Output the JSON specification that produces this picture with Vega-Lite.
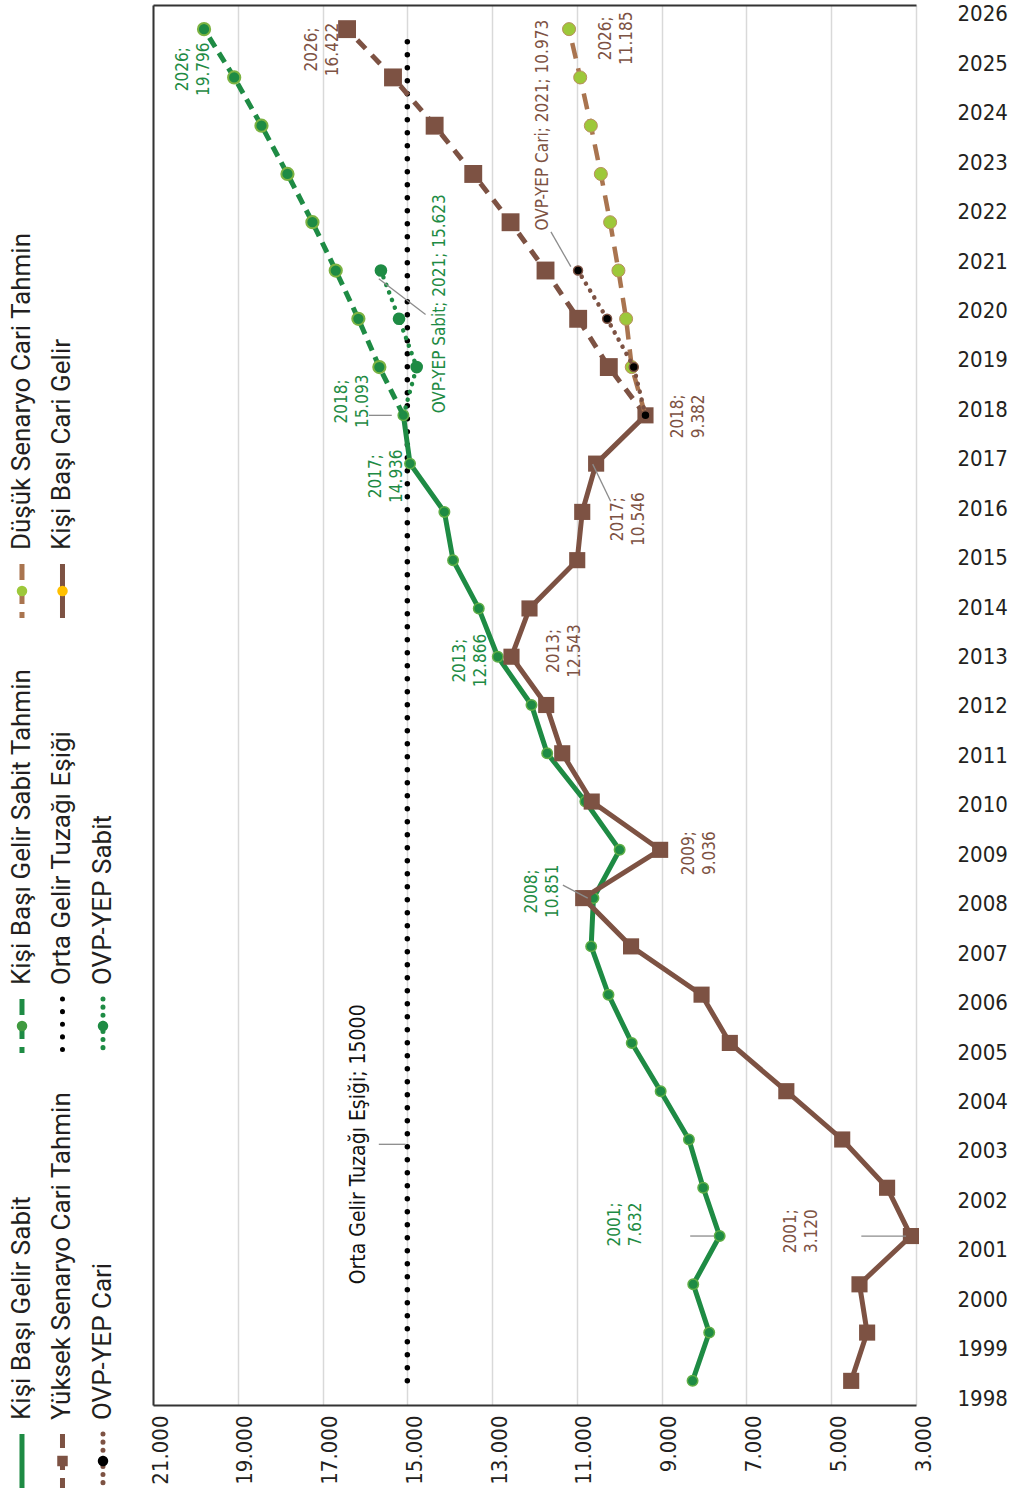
{
  "$schema": "https://vega.github.io/schema/vega-lite/v6.json",
  "background": "white",
  "padding": {"left": 0, "right": 0, "top": 2, "bottom": 0},
  "spacing": 20,
  "bounds": "flush",
  "config": {"view": {"stroke": null}},
  "datasets": {
    "series": [
      {"s": "Kişi Başı Gelir Sabit", "year": 1998, "value": 8271},
      {"s": "Kişi Başı Gelir Sabit", "year": 1999, "value": 7878},
      {"s": "Kişi Başı Gelir Sabit", "year": 2000, "value": 8255},
      {"s": "Kişi Başı Gelir Sabit", "year": 2001, "value": 7632},
      {"s": "Kişi Başı Gelir Sabit", "year": 2002, "value": 8020},
      {"s": "Kişi Başı Gelir Sabit", "year": 2003, "value": 8357},
      {"s": "Kişi Başı Gelir Sabit", "year": 2004, "value": 9024},
      {"s": "Kişi Başı Gelir Sabit", "year": 2005, "value": 9706},
      {"s": "Kişi Başı Gelir Sabit", "year": 2006, "value": 10255},
      {"s": "Kişi Başı Gelir Sabit", "year": 2007, "value": 10663},
      {"s": "Kişi Başı Gelir Sabit", "year": 2008, "value": 10610},
      {"s": "Kişi Başı Gelir Sabit", "year": 2009, "value": 9992},
      {"s": "Kişi Başı Gelir Sabit", "year": 2010, "value": 10800},
      {"s": "Kişi Başı Gelir Sabit", "year": 2011, "value": 11701},
      {"s": "Kişi Başı Gelir Sabit", "year": 2012, "value": 12071},
      {"s": "Kişi Başı Gelir Sabit", "year": 2013, "value": 12866},
      {"s": "Kişi Başı Gelir Sabit", "year": 2014, "value": 13315},
      {"s": "Kişi Başı Gelir Sabit", "year": 2015, "value": 13921},
      {"s": "Kişi Başı Gelir Sabit", "year": 2016, "value": 14126},
      {"s": "Kişi Başı Gelir Sabit", "year": 2017, "value": 14936},
      {"s": "Kişi Başı Gelir Sabit", "year": 2018, "value": 15093},
      {"s": "Kişi Başı Cari Gelir", "year": 1998, "value": 4529},
      {"s": "Kişi Başı Cari Gelir", "year": 1999, "value": 4153},
      {"s": "Kişi Başı Cari Gelir", "year": 2000, "value": 4333},
      {"s": "Kişi Başı Cari Gelir", "year": 2001, "value": 3120},
      {"s": "Kişi Başı Cari Gelir", "year": 2002, "value": 3682},
      {"s": "Kişi Başı Cari Gelir", "year": 2003, "value": 4741},
      {"s": "Kişi Başı Cari Gelir", "year": 2004, "value": 6059},
      {"s": "Kişi Başı Cari Gelir", "year": 2005, "value": 7392},
      {"s": "Kişi Başı Cari Gelir", "year": 2006, "value": 8059},
      {"s": "Kişi Başı Cari Gelir", "year": 2007, "value": 9722},
      {"s": "Kişi Başı Cari Gelir", "year": 2008, "value": 10851},
      {"s": "Kişi Başı Cari Gelir", "year": 2009, "value": 9036},
      {"s": "Kişi Başı Cari Gelir", "year": 2010, "value": 10650},
      {"s": "Kişi Başı Cari Gelir", "year": 2011, "value": 11346},
      {"s": "Kişi Başı Cari Gelir", "year": 2012, "value": 11724},
      {"s": "Kişi Başı Cari Gelir", "year": 2013, "value": 12543},
      {"s": "Kişi Başı Cari Gelir", "year": 2014, "value": 12118},
      {"s": "Kişi Başı Cari Gelir", "year": 2015, "value": 10992},
      {"s": "Kişi Başı Cari Gelir", "year": 2016, "value": 10874},
      {"s": "Kişi Başı Cari Gelir", "year": 2017, "value": 10546},
      {"s": "Kişi Başı Cari Gelir", "year": 2018, "value": 9382},
      {"s": "Kişi Başı Gelir Sabit Tahmin", "year": 2018, "value": 15093},
      {"s": "Kişi Başı Gelir Sabit Tahmin", "year": 2019, "value": 15660},
      {"s": "Kişi Başı Gelir Sabit Tahmin", "year": 2020, "value": 16155},
      {"s": "Kişi Başı Gelir Sabit Tahmin", "year": 2021, "value": 16689},
      {"s": "Kişi Başı Gelir Sabit Tahmin", "year": 2022, "value": 17239},
      {"s": "Kişi Başı Gelir Sabit Tahmin", "year": 2023, "value": 17828},
      {"s": "Kişi Başı Gelir Sabit Tahmin", "year": 2024, "value": 18441},
      {"s": "Kişi Başı Gelir Sabit Tahmin", "year": 2025, "value": 19085},
      {"s": "Kişi Başı Gelir Sabit Tahmin", "year": 2026, "value": 19796},
      {"s": "Yüksek Senaryo Cari Tahmin", "year": 2018, "value": 9382},
      {"s": "Yüksek Senaryo Cari Tahmin", "year": 2019, "value": 10247},
      {"s": "Yüksek Senaryo Cari Tahmin", "year": 2020, "value": 10970},
      {"s": "Yüksek Senaryo Cari Tahmin", "year": 2021, "value": 11740},
      {"s": "Yüksek Senaryo Cari Tahmin", "year": 2022, "value": 12565},
      {"s": "Yüksek Senaryo Cari Tahmin", "year": 2023, "value": 13445},
      {"s": "Yüksek Senaryo Cari Tahmin", "year": 2024, "value": 14356},
      {"s": "Yüksek Senaryo Cari Tahmin", "year": 2025, "value": 15338},
      {"s": "Yüksek Senaryo Cari Tahmin", "year": 2026, "value": 16422},
      {"s": "Düşük Senaryo Cari Tahmin", "year": 2018, "value": 9382},
      {"s": "Düşük Senaryo Cari Tahmin", "year": 2019, "value": 9706},
      {"s": "Düşük Senaryo Cari Tahmin", "year": 2020, "value": 9839},
      {"s": "Düşük Senaryo Cari Tahmin", "year": 2021, "value": 10020},
      {"s": "Düşük Senaryo Cari Tahmin", "year": 2022, "value": 10216},
      {"s": "Düşük Senaryo Cari Tahmin", "year": 2023, "value": 10435},
      {"s": "Düşük Senaryo Cari Tahmin", "year": 2024, "value": 10671},
      {"s": "Düşük Senaryo Cari Tahmin", "year": 2025, "value": 10922},
      {"s": "Düşük Senaryo Cari Tahmin", "year": 2026, "value": 11185},
      {"s": "OVP-YEP Cari", "year": 2018, "value": 9382},
      {"s": "OVP-YEP Cari", "year": 2019, "value": 9658},
      {"s": "OVP-YEP Cari", "year": 2020, "value": 10287},
      {"s": "OVP-YEP Cari", "year": 2021, "value": 10973},
      {"s": "OVP-YEP Sabit", "year": 2018, "value": 15093},
      {"s": "OVP-YEP Sabit", "year": 2019, "value": 14780},
      {"s": "OVP-YEP Sabit", "year": 2020, "value": 15196},
      {"s": "OVP-YEP Sabit", "year": 2021, "value": 15623},
      {"s": "Orta Gelir Tuzağı Eşiği", "year": 1998, "value": 15000},
      {"s": "Orta Gelir Tuzağı Eşiği", "year": 2026, "value": 15000}
    ],
    "years": [
      {"year": 1998}, {"year": 1999}, {"year": 2000}, {"year": 2001}, {"year": 2002}, {"year": 2003}, {"year": 2004},
      {"year": 2005}, {"year": 2006}, {"year": 2007}, {"year": 2008}, {"year": 2009}, {"year": 2010}, {"year": 2011},
      {"year": 2012}, {"year": 2013}, {"year": 2014}, {"year": 2015}, {"year": 2016}, {"year": 2017}, {"year": 2018},
      {"year": 2019}, {"year": 2020}, {"year": 2021}, {"year": 2022}, {"year": 2023}, {"year": 2024}, {"year": 2025}, {"year": 2026}
    ],
    "labels": [
      {"t": ["2026;", "19.796"], "lv": 20296, "ly": 2025.17, "c": "g"},
      {"t": ["2026;", "16.422"], "lv": 17245, "ly": 2025.58, "c": "b"},
      {"t": "OVP-YEP Sabit; 2021; 15.623", "lv": 14218, "ly": 2020.31, "c": "g"},
      {"t": ["2018;", "15.093"], "lv": 16541, "ly": 2018.29, "c": "g"},
      {"t": "OVP-YEP Cari; 2021; 10.973", "lv": 11800, "ly": 2024.01, "c": "b"},
      {"t": ["2026;", "11.185"], "lv": 10322, "ly": 2025.81, "c": "b"},
      {"t": ["2018;", "9.382"], "lv": 8609, "ly": 2017.98, "c": "b"},
      {"t": ["2017;", "14.936"], "lv": 15743, "ly": 2016.74, "c": "g"},
      {"t": ["2017;", "10.546"], "lv": 10040, "ly": 2015.85, "c": "b"},
      {"t": ["2013;", "12.866"], "lv": 13748, "ly": 2012.92, "c": "g"},
      {"t": ["2013;", "12.543"], "lv": 11542, "ly": 2013.12, "c": "b"},
      {"t": ["2009;", "9.036"], "lv": 8350, "ly": 2008.93, "c": "b"},
      {"t": ["2008;", "10.851"], "lv": 12058, "ly": 2008.14, "c": "g"},
      {"t": ["2001;", "7.632"], "lv": 10110, "ly": 2001.24, "c": "g"},
      {"t": ["2001;", "3.120"], "lv": 5956, "ly": 2001.1, "c": "b"}
    ],
    "leaders": [
      {"x1": 15673, "x2": 15039, "y1": 2002.9, "y2": 2002.9},
      {"x1": 15907, "x2": 15367, "y1": 2018, "y2": 2018},
      {"x1": 15673, "x2": 14570, "y1": 2020.83, "y2": 2020.09},
      {"x1": 11612, "x2": 11143, "y1": 2021.8, "y2": 2021.08},
      {"x1": 10627, "x2": 10204, "y1": 2016.99, "y2": 2016.22},
      {"x1": 11331, "x2": 10744, "y1": 2008.27, "y2": 2008.0},
      {"x1": 8327, "x2": 7764, "y1": 2001, "y2": 2001},
      {"x1": 4290, "x2": 3234, "y1": 2001, "y2": 2001}
    ],
    "legend": [
      {"item": "Kişi Başı Gelir Sabit", "col": 0, "row": 0},
      {"item": "Kişi Başı Gelir Sabit Tahmin", "col": 0, "row": 1},
      {"item": "Düşük Senaryo Cari Tahmin", "col": 0, "row": 2},
      {"item": "Yüksek Senaryo Cari Tahmin", "col": 1, "row": 0},
      {"item": "Orta Gelir Tuzağı Eşiği", "col": 1, "row": 1},
      {"item": "Kişi Başı Cari Gelir", "col": 1, "row": 2},
      {"item": "OVP-YEP Cari", "col": 2, "row": 0},
      {"item": "OVP-YEP Sabit", "col": 2, "row": 1}
    ]
  },
  "hconcat": [
    {
      "width": 133,
      "height": 1492,
      "data": {"name": "legend"},
      "encoding": {
        "x": {"field": "col", "type": "quantitative", "scale": {"domain": [-0.543, 2.741], "nice": false, "zero": false}, "axis": null},
        "y": {"field": "row", "type": "quantitative", "scale": {"domain": [-0.177, 3.253], "nice": false, "zero": false}, "axis": null}
      },
      "layer": [
        {
          "transform": [{"filter": "datum.item != 'Orta Gelir Tuzağı Eşiği' && datum.item != 'OVP-YEP Cari' && datum.item != 'OVP-YEP Sabit'"}],
          "mark": {"type": "rule", "strokeWidth": 5, "yOffset": 14, "y2Offset": 68, "strokeCap": "butt"},
          "encoding": {
            "y2": {"field": "row"},
            "stroke": {"field": "item", "type": "nominal", "legend": null,
              "scale": {"domain": ["Kişi Başı Gelir Sabit", "Kişi Başı Gelir Sabit Tahmin", "Düşük Senaryo Cari Tahmin", "Yüksek Senaryo Cari Tahmin", "Orta Gelir Tuzağı Eşiği", "Kişi Başı Cari Gelir", "OVP-YEP Cari", "OVP-YEP Sabit"],
                "range": ["#1e8b44", "#1e8b44", "#a9744f", "#7d5243", "#000000", "#7d5243", "#7d5243", "#1e8b44"]}},
            "strokeDash": {"field": "item", "type": "nominal", "legend": null,
              "scale": {"domain": ["Kişi Başı Gelir Sabit", "Kişi Başı Gelir Sabit Tahmin", "Düşük Senaryo Cari Tahmin", "Yüksek Senaryo Cari Tahmin", "Orta Gelir Tuzağı Eşiği", "Kişi Başı Cari Gelir", "OVP-YEP Cari", "OVP-YEP Sabit"],
                "range": [[1, 0], [16, 8], [16, 8], [14, 8], [0.1, 12.5], [1, 0], [0.1, 8], [0.1, 8]]}}
          }
        },
        {
          "transform": [{"filter": "datum.item == 'Orta Gelir Tuzağı Eşiği' || datum.item == 'OVP-YEP Cari' || datum.item == 'OVP-YEP Sabit'"}],
          "mark": {"type": "rule", "strokeWidth": 5, "yOffset": 14, "y2Offset": 68, "strokeCap": "round"},
          "encoding": {
            "y2": {"field": "row"},
            "stroke": {"field": "item", "type": "nominal", "legend": null},
            "strokeDash": {"field": "item", "type": "nominal", "legend": null}
          }
        },
        {
          "transform": [{"filter": "datum.item != 'Orta Gelir Tuzağı Eşiği' && datum.item != 'Kişi Başı Gelir Sabit'"}],
          "mark": {"type": "point", "filled": true, "opacity": 1, "yOffset": 41, "strokeWidth": 0},
          "encoding": {
            "fill": {"field": "item", "type": "nominal", "legend": null,
              "scale": {"domain": ["Kişi Başı Gelir Sabit Tahmin", "Düşük Senaryo Cari Tahmin", "Yüksek Senaryo Cari Tahmin", "Kişi Başı Cari Gelir", "OVP-YEP Cari", "OVP-YEP Sabit"],
                "range": ["#3f9a3f", "#9dc83a", "#7d5243", "#ffc000", "#000000", "#1e8b44"]}},
            "shape": {"field": "item", "type": "nominal", "legend": null,
              "scale": {"domain": ["Kişi Başı Gelir Sabit Tahmin", "Düşük Senaryo Cari Tahmin", "Yüksek Senaryo Cari Tahmin", "Kişi Başı Cari Gelir", "OVP-YEP Cari", "OVP-YEP Sabit"],
                "range": ["circle", "circle", "square", "circle", "circle", "circle"]}},
            "size": {"field": "item", "type": "nominal", "legend": null,
              "scale": {"domain": ["Kişi Başı Gelir Sabit Tahmin", "Düşük Senaryo Cari Tahmin", "Yüksek Senaryo Cari Tahmin", "Kişi Başı Cari Gelir", "OVP-YEP Cari", "OVP-YEP Sabit"],
                "range": [110, 110, 130, 130, 80, 120]}}
          }
        },
        {
          "mark": {"type": "text", "align": "left", "baseline": "middle", "angle": 270, "font": "Roboto", "fontSize": 26, "color": "#231f20"},
          "encoding": {"text": {"field": "item", "type": "nominal"}}
        }
      ]
    },
    {
      "width": 763,
      "height": 1400,
      "resolve": {"scale": {"y": "independent"}, "axis": {"y": "independent"}},
      "layer": [
        {
          "data": {"name": "years"},
          "mark": {"type": "point", "opacity": 0},
          "encoding": {
            "y": {"field": "year", "type": "quantitative", "scale": {"domain": [1997.86, 2026.18], "nice": false, "zero": false},
              "axis": {"orient": "right", "values": [1998, 1999, 2000, 2001, 2002, 2003, 2004, 2005, 2006, 2007, 2008, 2009, 2010, 2011, 2012, 2013, 2014, 2015, 2016, 2017, 2018, 2019, 2020, 2021, 2022, 2023, 2024, 2025, 2026],
                "format": "d", "labelFont": "'Liberation Sans Narrow', 'DejaVu Sans Condensed', sans-serif", "labelFontSize": 22, "labelColor": "#231f20",
                "labelPadding": 41, "labelFlush": false, "labelOverlap": false, "labelBound": false,
                "ticks": false, "domain": false, "grid": false, "title": null}}
          }
        },
        {
          "encoding": {
            "x": {"field": "value", "type": "quantitative", "scale": {"domain": [3000, 21000], "reverse": true, "nice": false, "zero": false}, "axis": null},
            "y": {"field": "year", "type": "quantitative", "scale": {"domain": [1997.5, 2026.5], "nice": false, "zero": false}, "axis": null}
          },
          "resolve": {"axis": {"x": "independent", "y": "independent"}},
          "layer": [
            {
              "data": {"name": "series"},
              "transform": [{"filter": "datum.s == 'Orta Gelir Tuzağı Eşiği'"}],
              "mark": {"type": "line", "color": "#000000", "strokeWidth": 5.5, "strokeDash": [0.1, 12.9], "strokeCap": "round"},
              "encoding": {
                "x": {"field": "value", "type": "quantitative",
                  "axis": {"orient": "bottom", "values": [3000, 5000, 7000, 9000, 11000, 13000, 15000, 17000, 19000, 21000],
                    "labelExpr": "replace(format(datum.value, ','), ',', '.')", "labelAngle": -90, "labelAlign": "right", "labelBaseline": "middle",
                    "labelFont": "'Liberation Sans Narrow', 'DejaVu Sans Condensed', sans-serif", "labelFontSize": 22, "labelColor": "#231f20",
                    "labelPadding": 10, "labelOffset": 7, "labelFlush": false, "labelOverlap": false, "labelBound": false,
                    "ticks": false, "domain": true, "domainColor": "#333333", "domainWidth": 2,
                    "grid": true, "gridColor": "#d9d9d9", "gridWidth": 1.5, "title": null}},
                "order": {"field": "year", "type": "quantitative"}
              }
            },
            {
              "data": {"name": "series"},
              "transform": [{"filter": "datum.s == 'Kişi Başı Gelir Sabit'"}],
              "mark": {"type": "line", "color": "#1e8b44", "strokeWidth": 5},
              "encoding": {
                "x": {"field": "value", "type": "quantitative",
                  "axis": {"orient": "top", "labels": false, "ticks": false, "grid": false, "domain": true, "domainColor": "#333333", "domainWidth": 2, "title": null, "minExtent": 0, "maxExtent": 0}},
                "y": {"field": "year", "type": "quantitative",
                  "axis": {"orient": "left", "labels": false, "ticks": false, "grid": false, "domain": true, "domainColor": "#333333", "domainWidth": 2, "title": null, "minExtent": 0, "maxExtent": 0}},
                "order": {"field": "year", "type": "quantitative"}
              }
            },
            {
              "data": {"name": "series"},
              "transform": [{"filter": "datum.s == 'Kişi Başı Gelir Sabit'"}],
              "mark": {"type": "point", "shape": "circle", "filled": true, "opacity": 1, "size": 110, "fill": "#1e8b44", "stroke": "#5fae46", "strokeWidth": 1.5}
            },
            {
              "data": {"name": "series"},
              "transform": [{"filter": "datum.s == 'Kişi Başı Cari Gelir'"}],
              "mark": {"type": "line", "color": "#7d5243", "strokeWidth": 5},
              "encoding": {"order": {"field": "year", "type": "quantitative"}}
            },
            {
              "data": {"name": "series"},
              "transform": [{"filter": "datum.s == 'Kişi Başı Cari Gelir'"}],
              "mark": {"type": "square", "opacity": 1, "size": 260, "fill": "#7d5243", "strokeWidth": 0}
            },
            {
              "data": {"name": "series"},
              "transform": [{"filter": "datum.s == 'Kişi Başı Gelir Sabit Tahmin'"}],
              "mark": {"type": "line", "color": "#1e8b44", "strokeWidth": 5, "strokeDash": [11, 7]},
              "encoding": {"order": {"field": "year", "type": "quantitative"}}
            },
            {
              "data": {"name": "series"},
              "transform": [{"filter": "datum.s == 'Kişi Başı Gelir Sabit Tahmin' && datum.year > 2018"}],
              "mark": {"type": "point", "shape": "circle", "filled": true, "opacity": 1, "size": 150, "fill": "#1e8b44", "stroke": "#7cb342", "strokeWidth": 2}
            },
            {
              "data": {"name": "series"},
              "transform": [{"filter": "datum.s == 'Yüksek Senaryo Cari Tahmin'"}],
              "mark": {"type": "line", "color": "#7d5243", "strokeWidth": 5, "strokeDash": [12, 9]},
              "encoding": {"order": {"field": "year", "type": "quantitative"}}
            },
            {
              "data": {"name": "series"},
              "transform": [{"filter": "datum.s == 'Yüksek Senaryo Cari Tahmin' && datum.year > 2018"}],
              "mark": {"type": "square", "opacity": 1, "size": 320, "fill": "#7d5243", "strokeWidth": 0}
            },
            {
              "data": {"name": "series"},
              "transform": [{"filter": "datum.s == 'Düşük Senaryo Cari Tahmin'"}],
              "mark": {"type": "line", "color": "#a9744f", "strokeWidth": 4.5, "strokeDash": [16, 10]},
              "encoding": {"order": {"field": "year", "type": "quantitative"}}
            },
            {
              "data": {"name": "series"},
              "transform": [{"filter": "datum.s == 'Düşük Senaryo Cari Tahmin' && datum.year > 2018"}],
              "mark": {"type": "point", "shape": "circle", "filled": true, "opacity": 1, "size": 170, "fill": "#9dc83a", "stroke": "#b9905e", "strokeWidth": 1}
            },
            {
              "data": {"name": "series"},
              "transform": [{"filter": "datum.s == 'OVP-YEP Sabit'"}],
              "mark": {"type": "line", "color": "#1e8b44", "strokeWidth": 4.5, "strokeDash": [0.1, 8], "strokeCap": "round"},
              "encoding": {"order": {"field": "year", "type": "quantitative"}}
            },
            {
              "data": {"name": "series"},
              "transform": [{"filter": "datum.s == 'OVP-YEP Sabit' && datum.year > 2018"}],
              "mark": {"type": "point", "shape": "circle", "filled": true, "opacity": 1, "size": 160, "fill": "#1e8b44", "strokeWidth": 0}
            },
            {
              "data": {"name": "series"},
              "transform": [{"filter": "datum.s == 'OVP-YEP Cari'"}],
              "mark": {"type": "line", "color": "#7d5243", "strokeWidth": 4.5, "strokeDash": [0.1, 8], "strokeCap": "round"},
              "encoding": {"order": {"field": "year", "type": "quantitative"}}
            },
            {
              "data": {"name": "series"},
              "transform": [{"filter": "datum.s == 'OVP-YEP Cari'"}],
              "mark": {"type": "point", "shape": "circle", "filled": true, "opacity": 1, "size": 80, "fill": "#000000", "stroke": "#7d5243", "strokeWidth": 1.5}
            },
            {
              "data": {"name": "leaders"},
              "mark": {"type": "rule", "color": "#8c8c8c", "strokeWidth": 1.3},
              "encoding": {
                "x": {"field": "x1", "type": "quantitative", "axis": null},
                "x2": {"field": "x2"},
                "y": {"field": "y1", "type": "quantitative", "axis": null},
                "y2": {"field": "y2"}
              }
            },
            {
              "data": {"name": "labels"},
              "mark": {"type": "text", "align": "center", "baseline": "middle", "angle": 270, "font": "'Liberation Sans Narrow', 'DejaVu Sans Condensed', sans-serif", "fontSize": 17, "lineHeight": 21},
              "encoding": {
                "x": {"field": "lv", "type": "quantitative", "axis": null},
                "y": {"field": "ly", "type": "quantitative", "axis": null},
                "text": {"field": "t", "type": "nominal"},
                "color": {"field": "c", "type": "nominal", "legend": null, "scale": {"domain": ["g", "b"], "range": ["#1e8b44", "#7d5243"]}}
              }
            },
            {
              "data": {"values": [{"t": "Orta Gelir Tuzağı Eşiği; 15000", "lv": 16142, "ly": 2002.9}]},
              "mark": {"type": "text", "align": "center", "baseline": "middle", "angle": 270, "font": "'Liberation Sans Narrow', 'DejaVu Sans Condensed', sans-serif", "fontSize": 21, "color": "#111111"},
              "encoding": {
                "x": {"field": "lv", "type": "quantitative", "axis": null},
                "y": {"field": "ly", "type": "quantitative", "axis": null},
                "text": {"field": "t", "type": "nominal"}
              }
            }
          ]
        }
      ]
    }
  ]
}
